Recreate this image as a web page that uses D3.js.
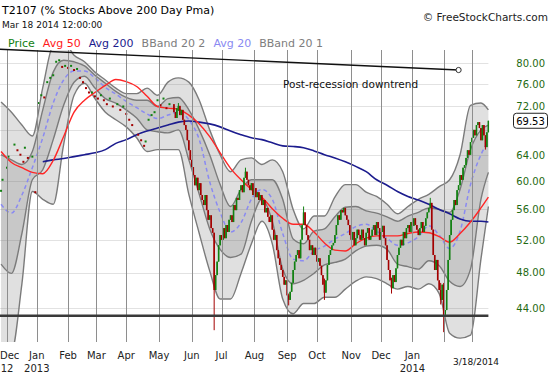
<!DOCTYPE html>
<html>
<head>
<meta charset="utf-8">
<script src="https://cdn.jsdelivr.net/npm/d3@7"></script>
<style>
body { margin: 0; background: #fff; }
svg { display: block; }
</style>
</head>
<body>
<script>
// T2107 daily chart, Dec 2012 - Mar 18 2014
// x positions are trading-day numbers, day 0 = first trading day of Dec 2012

// month grid
var monthNames = ["Dec","Jan","Feb","Mar","Apr","May","Jun","Jul","Aug","Sep","Oct","Nov","Dec","Jan","Feb","Mar"];
var monthStartDays = [0,20,41,60,80,102,124,144,166,188,208,231,251,272,293,312];
var monthLabelShown = [1,1,1,1,1,1,1,1,1,1,1,1,1,1,0,0];
var yearNames = ["12","2013","","","","","","","","","","","","2014","",""];
var yTicks = [44,48,52,56,60,64,68,72,76,80];
var lastDay = 323;
var lastClose = 69.53;

// early closes (shown as dots)
var dotDays = [-4,-3,0,1,5,7,9,11,12,14,17,19,21,23,25,27,29,31,33,35,37,39,41,43,45,47,49,51,53,55,57,59,61,63,65,67,69,71,74,76,78,80,82,84,88,90,92,93,95,97,99,101,103,105,107,109];
var dotCloses = [58.6,60.2,62.0,63.7,65.6,64.7,64.0,62.9,65.1,63.5,63.7,58.4,72.6,74.0,73.6,76.4,77.2,77.7,80.3,80.6,79.3,79.5,79.1,79.5,78.7,78.9,77.2,76.4,75.3,74.5,74.5,73.8,73.4,74.0,73.1,72.4,73.4,72.0,72.4,71.4,72.0,70.7,69.7,68.8,67.2,66.3,65.4,66.1,69.7,70.5,71.0,73.1,72.2,73.4,71.7,72.4];

// daily closes for the candle part, day 112 .. 323
var candleFirstDay = 112;
var candleCloses = [
  71.0,70.0,71.7,72.1,70.5,71.4,69.7,68.8,
  68.0,66.3,64.7,63.2,
  62.1,60.9,59.4,60.5,58.7,59.7,58.0,
  57.3,56.6,58.0,55.9,54.6,55.2,53.5,
  52.9,46.0,
  47.7,49.3,
  51.3,52.6,52.0,53.5,52.2,53.9,53.0,54.6,
  55.2,54.3,56.6,55.9,57.6,57.3,58.7,59.4,58.4,60.5,61.4,
  60.2,59.4,58.7,59.7,58.0,59.0,57.7,58.4,57.3,
  58.0,56.6,57.3,55.6,56.2,55.0,54.3,
  55.2,53.3,52.0,52.6,50.7,49.7,48.9,48.3,
  47.5,46.6,47.1,45.4,44.9,
  45.8,46.8,48.3,
  49.3,50.1,50.7,49.7,
  52.0,53.9,55.6,
  53.9,52.6,52.0,50.7,51.3,50.1,51.0,
  50.1,49.3,49.7,48.8,
  47.7,46.6,45.7,47.1,
  48.9,50.1,50.7,51.3,51.6,
  52.6,53.9,55.2,54.6,55.9,55.6,56.2,55.2,54.6,
  53.9,52.6,52.0,53.0,51.3,52.2,53.3,
  52.6,52.0,53.3,52.2,51.3,52.9,53.5,52.0,52.5,
  53.3,53.9,52.6,54.3,53.5,52.0,53.0,53.8,52.2,
  51.3,49.5,48.3,47.1,46.2,47.7,46.9,48.5,
  50.1,51.0,52.0,51.3,53.0,52.2,53.5,53.9,53.0,54.3,53.8,54.8,
  53.9,53.3,52.6,53.5,54.3,53.0,53.8,
  54.8,55.6,56.2,56.9,
  53.3,50.1,48.3,49.5,
  47.1,46.0,44.9,46.6,43.3,43.8,
  46.0,49.5,52.6,
  54.6,55.9,57.3,56.6,
  58.7,59.4,60.9,60.2,62.0,62.4,
  63.5,64.7,64.0,
  66.0,66.7,68.0,67.1,
  68.8,69.3,68.3,66.3,68.8,67.1,65.2,67.6,69.53
];

// days with a visible wick beyond the body
var wickDays  = [115, 139, 160, 189, 199, 213, 258, 284, 291, 293, 321];
var wickLows  = [71.2, 41.7, 60.9, 44.3, 55.0, 44.9, 45.6, 56.5, 44.4, 41.5, 64.8];
var wickHighs = [72.6, 52.9, 62.0, 45.6, 56.4, 47.3, 47.4, 57.6, 46.8, 46.8, 66.6];

// indicator readings, one every 7 trading days
var sampleDays = [-4,3,10,17,24,31,38,45,52,59,66,73,80,87,94,101,108,115,122,129,136,143,150,157,164,171,178,185,192,199,206,213,220,227,234,241,248,255,262,269,276,283,290,297,304,311,318,323];
var avg20 = [56.7,55.5,58.0,62.0,66.7,72.6,76.8,78.5,78.5,77.2,75.4,74.2,72.9,71.8,70.7,69.9,70.5,71.0,69.7,66.4,59.9,55.6,53.0,54.2,57.4,58.8,57.4,52.8,49.6,49.4,50.6,51.2,52.1,52.8,53.7,54.0,53.1,52.2,51.3,51.6,52.4,53.8,52.6,50.9,53.1,59.5,64.0,66.1];
var avg50 = [64.5,62.8,62.0,61.3,61.1,63.1,66.9,71.0,73.1,74.5,75.8,76.9,76.5,75.6,73.8,72.0,71.7,71.5,70.5,69.0,66.9,64.3,61.9,60.2,58.8,57.7,56.1,54.8,54.0,54.0,53.0,51.6,50.7,50.6,51.5,52.2,52.5,52.5,52.5,52.8,53.0,52.9,52.4,51.7,52.8,54.3,56.2,57.7];
var avg200 = [null,null,null,null,62.9,63.2,63.4,63.7,64.0,64.3,64.8,65.8,66.4,67.2,67.8,68.3,68.8,69.3,69.5,69.3,69.0,68.5,67.8,67.2,66.7,66.4,65.9,65.4,65.3,65.1,64.6,64.0,63.5,62.9,62.2,61.4,60.2,59.4,58.5,57.8,57.3,56.7,56.0,55.4,54.7,54.4,54.4,54.3];
var bandUpper2 = [72.8,71.0,68.8,67.0,75.4,83.6,84.3,81.6,80.3,78.3,76.8,75.3,74.3,74.3,75.3,74.0,76.4,77.2,76.4,73.1,68.0,64.0,61.4,63.2,63.5,62.5,63.2,61.4,56.0,53.4,55.1,55.1,57.7,59.5,59.5,58.4,57.8,56.7,55.4,56.4,57.4,58.1,59.2,60.2,64.0,72.2,72.6,71.4];
var bandUpper1 = [64.0,63.2,62.5,64.5,71.4,78.3,80.6,80.3,79.5,77.7,76.2,74.7,73.6,73.1,73.1,72.0,73.4,73.6,71.4,68.0,64.0,59.5,56.4,58.8,60.2,60.2,60.2,57.4,52.1,51.5,53.1,53.4,55.0,56.3,56.4,55.8,55.5,55.0,54.4,55.1,55.6,56.2,56.0,55.6,58.8,64.8,68.0,68.8];
var bandLower1 = [49.0,47.9,52.8,60.2,61.7,66.4,72.2,76.4,77.5,75.3,73.4,72.6,71.4,70.0,68.0,67.7,67.5,68.0,63.2,58.1,53.4,50.8,49.8,50.2,54.4,57.4,54.4,48.4,46.7,47.1,47.9,48.9,49.2,49.6,50.6,51.2,51.3,50.8,49.0,48.7,48.4,49.4,48.8,47.0,46.4,48.4,57.4,61.3];
var bandLower2 = [39.6,39.6,46.7,58.5,57.4,56.7,65.6,74.0,76.2,73.4,71.0,69.7,68.5,66.7,64.5,64.8,64.8,64.8,58.1,52.8,48.2,45.0,45.0,47.9,51.5,54.4,51.5,45.0,43.4,44.5,44.5,45.2,45.2,46.1,47.0,47.5,47.3,46.7,46.1,46.4,46.1,46.7,45.6,41.4,40.9,41.2,49.6,56.4];

// hand-drawn annotations
var trendDays = [-5, 303];
var trendValues = [82.8, 78.7];
var supportLevel = 43.2;
var trendNote = "Post-recession downtrend";

var legendNames = ["Price","Avg 50","Avg 200","BBand 20 2","Avg 20","BBand 20 1"];

window.onload = function(){

    var font = "'DejaVu Sans', Verdana, sans-serif";
    var green = "#118011", red = "#a30000";

    var svg = d3.select("body").append("svg")
        .attr("width", 550)
        .attr("height", 375)
        .style("font-family", font);

    //scales: one trading day = ~1.49px, log price axis
    var x = d3.scaleLinear().domain([0, 312]).range([7, 472]);
    var y = d3.scaleLog().domain([44, 80]).range([308.2, 63.3]);

    var plotTop = 50, plotBottom = 342, plotRight = x(lastDay);

    svg.append("defs").append("clipPath")
        .attr("id", "plotClip")
        .append("rect")
        .attr("x", 0).attr("y", plotTop)
        .attr("width", plotRight + 1).attr("height", plotBottom - plotTop);

    var plot = svg.append("g").attr("clip-path", "url(#plotClip)");

    //horizontal grid
    plot.selectAll(".hgrid")
        .data(yTicks)
        .enter()
        .append("line")
        .attr("class", "hgrid")
        .attr("x1", 0).attr("x2", plotRight)
        .attr("y1", function(d){ return Math.round(y(d)) + 0.5; })
        .attr("y2", function(d){ return Math.round(y(d)) + 0.5; })
        .style("stroke", "#e2e2e2");

    //month grid
    svg.selectAll(".vgrid")
        .data(monthStartDays)
        .enter()
        .append("line")
        .attr("class", "vgrid")
        .attr("x1", function(d){ return Math.round(x(d)) + 0.5; })
        .attr("x2", function(d){ return Math.round(x(d)) + 0.5; })
        .attr("y1", plotTop).attr("y2", plotBottom)
        .style("stroke", "#8e8e8e");

    //indicator table
    var samples = sampleDays.map(function(d, i){
        return {
            day: d, m20: avg20[i], m50: avg50[i], m200: avg200[i],
            u2: bandUpper2[i], u1: bandUpper1[i], l1: bandLower1[i], l2: bandLower2[i]
        };
    });

    var curve = d3.curveMonotoneX;

    //bollinger fills
    var outerArea = d3.area().curve(curve)
        .x(function(d){ return x(d.day); })
        .y0(function(d){ return y(d.l2); })
        .y1(function(d){ return y(d.u2); });
    var innerArea = d3.area().curve(curve)
        .x(function(d){ return x(d.day); })
        .y0(function(d){ return y(d.l1); })
        .y1(function(d){ return y(d.u1); });

    plot.append("path").datum(samples).attr("d", outerArea)
        .style("fill", "rgba(115,115,115,0.22)");
    plot.append("path").datum(samples).attr("d", innerArea)
        .style("fill", "rgba(115,115,115,0.21)");

    //band edges
    ["u2", "u1", "l1", "l2"].forEach(function(k){
        var edge = d3.line().curve(curve)
            .x(function(d){ return x(d.day); })
            .y(function(d){ return y(d[k]); });
        plot.append("path").datum(samples).attr("d", edge)
            .style("fill", "none")
            .style("stroke", "#7b7b7b")
            .style("stroke-width", 1.4);
    });

    //moving averages
    function avgLine(key, color, dash, width){
        var line = d3.line().curve(curve)
            .defined(function(d){ return d[key] != null; })
            .x(function(d){ return x(d.day); })
            .y(function(d){ return y(d[key]); });
        plot.append("path").datum(samples).attr("d", line)
            .style("fill", "none")
            .style("stroke", color)
            .style("stroke-width", width)
            .style("stroke-dasharray", dash);
    }
    avgLine("m20", "#8a8af2", "4,3", 1.5);
    avgLine("m200", "#1c1c8e", null, 1.6);
    avgLine("m50", "#ff2626", null, 1.4);

    //early price dots
    var dots = dotDays.map(function(d, i){
        return { day: d, close: dotCloses[i], up: i == 0 || dotCloses[i] >= dotCloses[i - 1] };
    });
    plot.selectAll(".dot")
        .data(dots)
        .enter()
        .append("rect")
        .attr("class", "dot")
        .attr("x", function(d){ return x(d.day) - 1; })
        .attr("y", function(d){ return y(d.close) - 1; })
        .attr("width", 2).attr("height", 2)
        .style("fill", function(d){ return d.up ? green : red; });

    //candles, open = previous close
    var candles = candleCloses.map(function(c, i){
        var o = i == 0 ? dotCloses[dotCloses.length - 1] : candleCloses[i - 1];
        var day = candleFirstDay + i;
        var k = wickDays.indexOf(day);
        return {
            day: day, open: o, close: c,
            high: k >= 0 ? Math.max(wickHighs[k], o, c) : Math.max(o, c),
            low: k >= 0 ? Math.min(wickLows[k], o, c) : Math.min(o, c)
        };
    });

    var cg = plot.selectAll(".candle")
        .data(candles)
        .enter()
        .append("g")
        .attr("class", "candle");

    cg.append("line")
        .attr("x1", function(d){ return x(d.day); })
        .attr("x2", function(d){ return x(d.day); })
        .attr("y1", function(d){ return y(d.high); })
        .attr("y2", function(d){ return y(d.low); })
        .style("stroke", function(d){ return d.close >= d.open ? green : red; })
        .style("stroke-width", 1);

    cg.append("rect")
        .attr("x", function(d){ return x(d.day) - 0.8; })
        .attr("y", function(d){ return y(Math.max(d.open, d.close)); })
        .attr("width", 1.6)
        .attr("height", function(d){ return Math.max(1, y(Math.min(d.open, d.close)) - y(Math.max(d.open, d.close))); })
        .style("fill", function(d){ return d.close >= d.open ? green : red; });

    //support line
    svg.append("line")
        .attr("x1", 0).attr("x2", plotRight)
        .attr("y1", y(supportLevel)).attr("y2", y(supportLevel))
        .style("stroke", "#3a3a3a")
        .style("stroke-width", 2.4);

    //downtrend line
    svg.append("line")
        .attr("x1", x(trendDays[0])).attr("y1", y(trendValues[0]))
        .attr("x2", x(trendDays[1])).attr("y2", y(trendValues[1]))
        .style("stroke", "#111")
        .style("stroke-width", 1.4);
    svg.append("circle")
        .attr("cx", x(trendDays[1])).attr("cy", y(trendValues[1]))
        .attr("r", 2.6)
        .style("fill", "#fff")
        .style("stroke", "#333")
        .style("stroke-width", 1);
    svg.append("text")
        .attr("x", 283).attr("y", 88)
        .style("font-size", "10.5px")
        .style("fill", "#111")
        .text(trendNote);

    //right price axis (the tick under the last-value tag stays hidden)
    var fmt = d3.format(".2f");
    var ty = y(lastClose);
    svg.selectAll(".ylab")
        .data(yTicks.filter(function(d){ return Math.abs(y(d) - ty) > 12; }))
        .enter()
        .append("text")
        .attr("class", "ylab")
        .attr("x", 545)
        .attr("y", function(d){ return y(d) + 3.8; })
        .attr("text-anchor", "end")
        .style("font-size", "10px")
        .style("fill", "#1f6a12")
        .text(function(d){ return fmt(d); });

    //last value tag
    svg.append("rect")
        .attr("x", 513.5).attr("y", ty - 7.5)
        .attr("width", 34).attr("height", 15)
        .attr("rx", 3)
        .style("fill", "#fff")
        .style("stroke", "#222");
    svg.append("text")
        .attr("x", 530.5).attr("y", ty + 3.8)
        .attr("text-anchor", "middle")
        .style("font-size", "10px")
        .style("fill", "#000")
        .text(fmt(lastClose));

    //month labels
    svg.selectAll(".mlab")
        .data(monthStartDays.filter(function(d, i){ return monthLabelShown[i]; }))
        .enter()
        .append("text")
        .attr("class", "mlab")
        .attr("x", function(d){ return x(d); })
        .attr("y", 358.5)
        .attr("text-anchor", "middle")
        .style("font-size", "10px")
        .style("fill", "#222")
        .text(function(d){ return monthNames[monthStartDays.indexOf(d)]; });

    svg.selectAll(".ylabx")
        .data(monthStartDays.filter(function(d, i){ return yearNames[i] != ""; }))
        .enter()
        .append("text")
        .attr("class", "ylabx")
        .attr("x", function(d){ return x(d); })
        .attr("y", 372)
        .attr("text-anchor", "middle")
        .style("font-size", "10px")
        .style("fill", "#222")
        .text(function(d){ return yearNames[monthStartDays.indexOf(d)]; });

    //keep the first labels inside the window
    svg.selectAll(".mlab, .ylabx").each(function(){
        var t = d3.select(this);
        var half = this.getComputedTextLength() / 2;
        if (+t.attr("x") - half < 0) t.attr("x", half);
    });

    //crosshair date
    svg.append("text")
        .attr("x", 476).attr("y", 365)
        .attr("text-anchor", "middle")
        .style("font-size", "9px")
        .style("fill", "#111")
        .text("3/18/2014");

    //header
    svg.append("text")
        .attr("x", 2).attr("y", 14)
        .style("font-size", "11px")
        .style("fill", "#000")
        .text("T2107 (% Stocks Above 200 Day Pma)");
    svg.append("text")
        .attr("x", 2).attr("y", 28)
        .style("font-size", "9px")
        .style("fill", "#111")
        .text("Mar 18 2014 12:00:00");
    svg.append("text")
        .attr("x", 548).attr("y", 21)
        .attr("text-anchor", "end")
        .style("font-size", "10.5px")
        .style("fill", "#222")
        .text("\u00a9 FreeStockCharts.com");

    //legend
    var legendColors = [green, "#ff1a1a", "#1c1c8e", "#7d7d7d", "#8a8af2", "#7d7d7d"];
    var lx = 8;
    legendNames.forEach(function(name, i){
        var t = svg.append("text")
            .attr("x", lx).attr("y", 47)
            .style("font-size", "11px")
            .style("fill", legendColors[i])
            .text(name);
        lx += t.node().getComputedTextLength() + 8;
    });
};
</script>
</body>
</html>
